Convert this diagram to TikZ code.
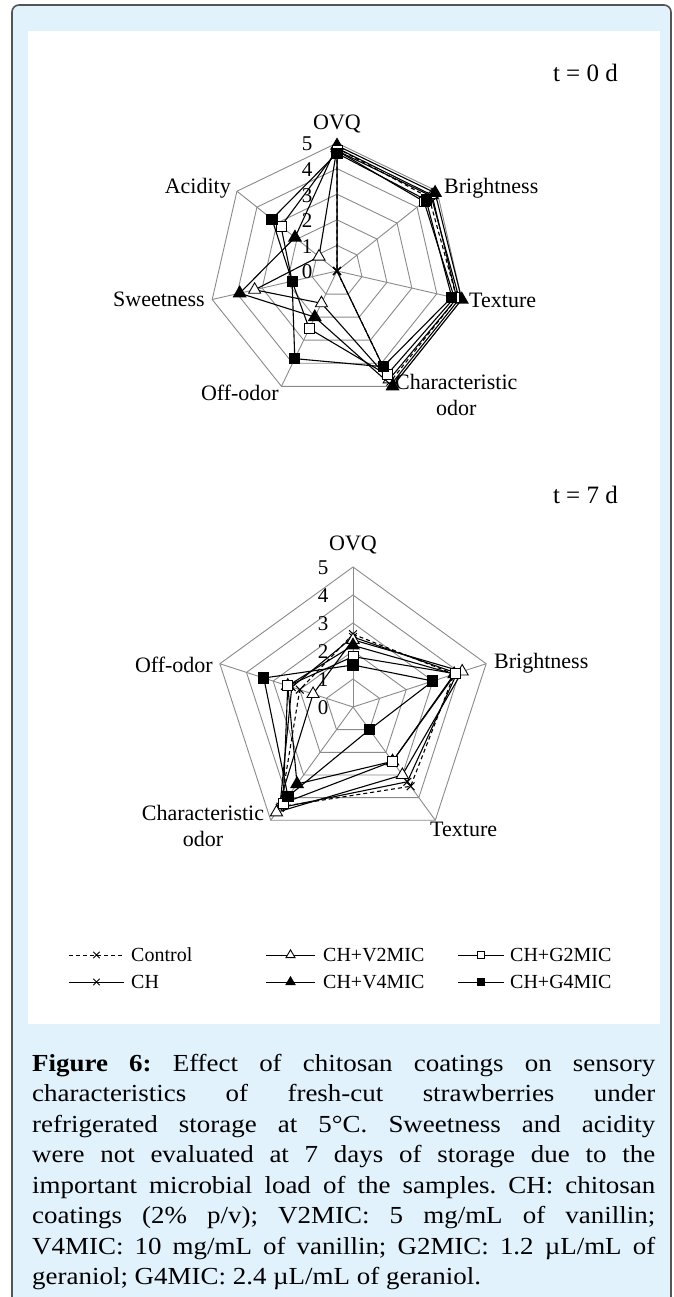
\documentclass[tikz,border=0pt]{standalone}
\usepackage{fontspec}
\setmainfont{Liberation Serif}
\newfontfamily\capfont[FakeStretch=1.1]{Liberation Serif}
\usetikzlibrary{plotmarks}
\definecolor{bgblue}{HTML}{E1F2FC}
\definecolor{framecol}{HTML}{555555}
\definecolor{gridgray}{HTML}{8A8A8A}
\frenchspacing
\begin{document}
\begin{tikzpicture}[x=1pt,y=-1pt,
  gridline/.style={draw=gridgray, line width=0.9pt},
  serline/.style={draw=black, line width=1.1pt, line join=miter},
  ctrl/.style={serline, dash pattern=on 4pt off 3pt, mark=x, mark size=5.5pt, mark options={solid, line width=1pt}},
  chs/.style={serline, mark=x, mark size=5.5pt, mark options={solid, line width=1pt}},
  vtwo/.style={serline, mark=triangle*, mark size=7pt, mark options={solid, fill=white, line width=0.9pt}},
  vfour/.style={serline, mark=triangle*, mark size=7pt, mark options={solid, fill=black}},
  gtwo/.style={serline, mark=square*, mark size=5pt, mark options={solid, fill=white, line width=0.9pt}},
  gfour/.style={serline, mark=square*, mark size=5pt, mark options={solid, fill=black}},
  legsmall/.style={mark size=5.2pt, line width=0.9pt},
  legsq/.style={mark size=3.8pt, line width=0.9pt},
  axlab/.style={font=\fontsize{22}{26}\selectfont, inner sep=0pt},
  tlab/.style={font=\fontsize{25}{30}\selectfont, inner sep=0pt, anchor=east},
  ticklab/.style={font=\fontsize{21}{25}\selectfont, inner sep=0pt},
  leglab/.style={font=\fontsize{20}{24}\selectfont, inner sep=0pt, anchor=west},
  capline/.style={font=\capfont\fontsize{24.5}{30}\selectfont, inner sep=0pt, anchor=base west}
]
\useasboundingbox (0,0) rectangle (673,1297);
\clip (0,0) rectangle (673,1297);
% frame
\draw[draw=framecol, line width=1.6pt, fill=bgblue, rounded corners=7pt] (12,5) rectangle (671,1330);
\fill[white] (28,31) rectangle (660,1024);

% ---------------- top chart t = 0 d ----------------
\node[tlab] (t0) at (618,73) {t = 0 d};
\begin{scope}[shift={(337,271)}, x=25.6pt, y=-25.6pt]
  \foreach \r in {1,...,5}
    \draw[gridline] (-90:\r) -- (-38.5714:\r) -- (12.8571:\r) -- (64.2857:\r) -- (115.7143:\r) -- (167.1429:\r) -- (218.5714:\r) -- cycle;
  \foreach \a in {-90,-38.5714,12.8571,64.2857,115.7143,167.1429,218.5714}
    \draw[gridline] (0,0) -- (\a:5);
  \draw[ctrl] plot[sharp cycle] coordinates {(-90:4.8) (-38.5714:4.6) (12.8571:4.8) (64.2857:4.8) (115.7143:0) (167.1429:0) (218.5714:0)};
  \draw[chs] plot[sharp cycle] coordinates {(-90:4.7) (-38.5714:4.7) (12.8571:4.9) (64.2857:4.9) (115.7143:0) (167.1429:0) (218.5714:0)};
  \draw[vtwo] plot[sharp cycle] coordinates {(-90:4.8) (-38.5714:4.75) (12.8571:4.8) (64.2857:4.7) (115.7143:1.4) (167.1429:3.3) (218.5714:0.9)};
  \draw[vfour] plot[sharp cycle] coordinates {(-90:4.9) (-38.5714:4.9) (12.8571:5.0) (64.2857:5.0) (115.7143:2.0) (167.1429:3.9) (218.5714:2.1)};
  \draw[gtwo] plot[sharp cycle] coordinates {(-90:4.7) (-38.5714:4.35) (12.8571:4.7) (64.2857:4.5) (115.7143:2.5) (167.1429:1.8) (218.5714:2.8)};
  \draw[gfour] plot[sharp cycle] coordinates {(-90:4.6) (-38.5714:4.45) (12.8571:4.6) (64.2857:4.15) (115.7143:3.8) (167.1429:1.8) (218.5714:3.25)};
\end{scope}
\foreach \k in {0,...,5}
  \node[ticklab] (ta\k) at (307,{272-25.6*\k}) {\k};
\node[axlab] (ovqa) at (337,124) {OVQ};
\node[axlab, anchor=west] (bra) at (444,188) {Brightness};
\node[axlab, anchor=west] (texa) at (469,300) {Texture};
\node[axlab, anchor=west, align=center] (coa) at (395,395) {Characteristic\\odor};
\node[axlab, anchor=east] (ooa) at (279,393) {Off-odor};
\node[axlab, anchor=east] (swa) at (205,299) {Sweetness};
\node[axlab, anchor=east] (aca) at (231,188) {Acidity};

% ---------------- bottom chart t = 7 d ----------------
\node[tlab] (t7) at (618,495) {t = 7 d};
\begin{scope}[shift={(353,707)}, x=28pt, y=-28pt]
  \foreach \r in {1,...,5}
    \draw[gridline] (-90:\r) -- (-18:\r) -- (54:\r) -- (126:\r) -- (198:\r) -- cycle;
  \foreach \a in {-90,-18,54,126,198}
    \draw[gridline] (0,0) -- (\a:5);
  \draw[ctrl] plot[sharp cycle] coordinates {(-90:2.6) (-18:3.8) (54:3.5) (126:4.4) (198:2.0)};
  \draw[chs] plot[sharp cycle] coordinates {(-90:2.5) (-18:3.9) (54:3.3) (126:4.45) (198:2.3)};
  \draw[vtwo] plot[sharp cycle] coordinates {(-90:2.4) (-18:4.1) (54:3.0) (126:4.65) (198:1.5)};
  \draw[vfour] plot[sharp cycle] coordinates {(-90:2.2) (-18:3.8) (54:2.4) (126:3.4) (198:2.45)};
  \draw[gtwo] plot[sharp cycle] coordinates {(-90:1.8) (-18:3.85) (54:2.4) (126:4.25) (198:2.45)};
  \draw[gfour] plot[sharp cycle] coordinates {(-90:1.5) (-18:3.0) (54:1.0) (126:3.95) (198:3.35)};
\end{scope}
\foreach \k in {0,...,5}
  \node[ticklab] (tb\k) at (323,{708-28*\k}) {\k};
\node[axlab] (ovqb) at (353,545) {OVQ};
\node[axlab, anchor=west] (brb) at (494,663) {Brightness};
\node[axlab, anchor=west] (texb) at (430,829) {Texture};
\node[axlab, align=center] (cob) at (203,826) {Characteristic\\odor};
\node[axlab, anchor=east] (oob) at (213,665) {Off-odor};

% ---------------- legend ----------------
\draw[ctrl, line width=0.9pt, mark size=4.5pt] plot[mark indices={2}] coordinates {(69,955) (96.5,955) (124,955)};
\node[leglab] (lc) at (131,955) {Control};
\draw[chs, line width=0.9pt, mark size=4.5pt] plot[mark indices={2}] coordinates {(69,982) (96.5,982) (124,982)};
\node[leglab] (lch) at (131,982) {CH};
\draw[vtwo, legsmall] plot[mark indices={2}] coordinates {(266,955) (290.5,955) (315,955)};
\node[leglab] (lv2) at (323,955) {CH+V2MIC};
\draw[vfour, legsmall] plot[mark indices={2}] coordinates {(266,982) (290.5,982) (315,982)};
\node[leglab] (lv4) at (323,982) {CH+V4MIC};
\draw[gtwo, legsq] plot[mark indices={2}] coordinates {(458,955) (481,955) (504,955)};
\node[leglab] (lg2) at (510,955) {CH+G2MIC};
\draw[gfour, legsq] plot[mark indices={2}] coordinates {(458,982) (481,982) (504,982)};
\node[leglab] (lg4) at (510,982) {CH+G4MIC};

% ---------------- caption ----------------
\node[capline] (c1) at (32,1071) {\makebox[623pt][s]{\textbf{Figure 6:} Effect of chitosan coatings on sensory}};
\node[capline] (c2) at (32,1101.5) {\makebox[623pt][s]{characteristics of fresh-cut strawberries under}};
\node[capline] (c3) at (32,1132) {\makebox[623pt][s]{refrigerated storage at 5°C. Sweetness and acidity}};
\node[capline] (c4) at (32,1162.5) {\makebox[623pt][s]{were not evaluated at 7 days of storage due to the}};
\node[capline] (c5) at (32,1193) {\makebox[623pt][s]{important microbial load of the samples. CH: chitosan}};
\node[capline] (c6) at (32,1223.5) {\makebox[623pt][s]{coatings (2\% p/v); V2MIC: 5 mg/mL of vanillin;}};
\node[capline] (c7) at (32,1254) {\makebox[623pt][s]{V4MIC: 10 mg/mL of vanillin; G2MIC: 1.2 µL/mL of}};
\node[capline] (c8) at (32,1284.5) {geraniol; G4MIC: 2.4 µL/mL of geraniol.};
\end{tikzpicture}
\end{document}
